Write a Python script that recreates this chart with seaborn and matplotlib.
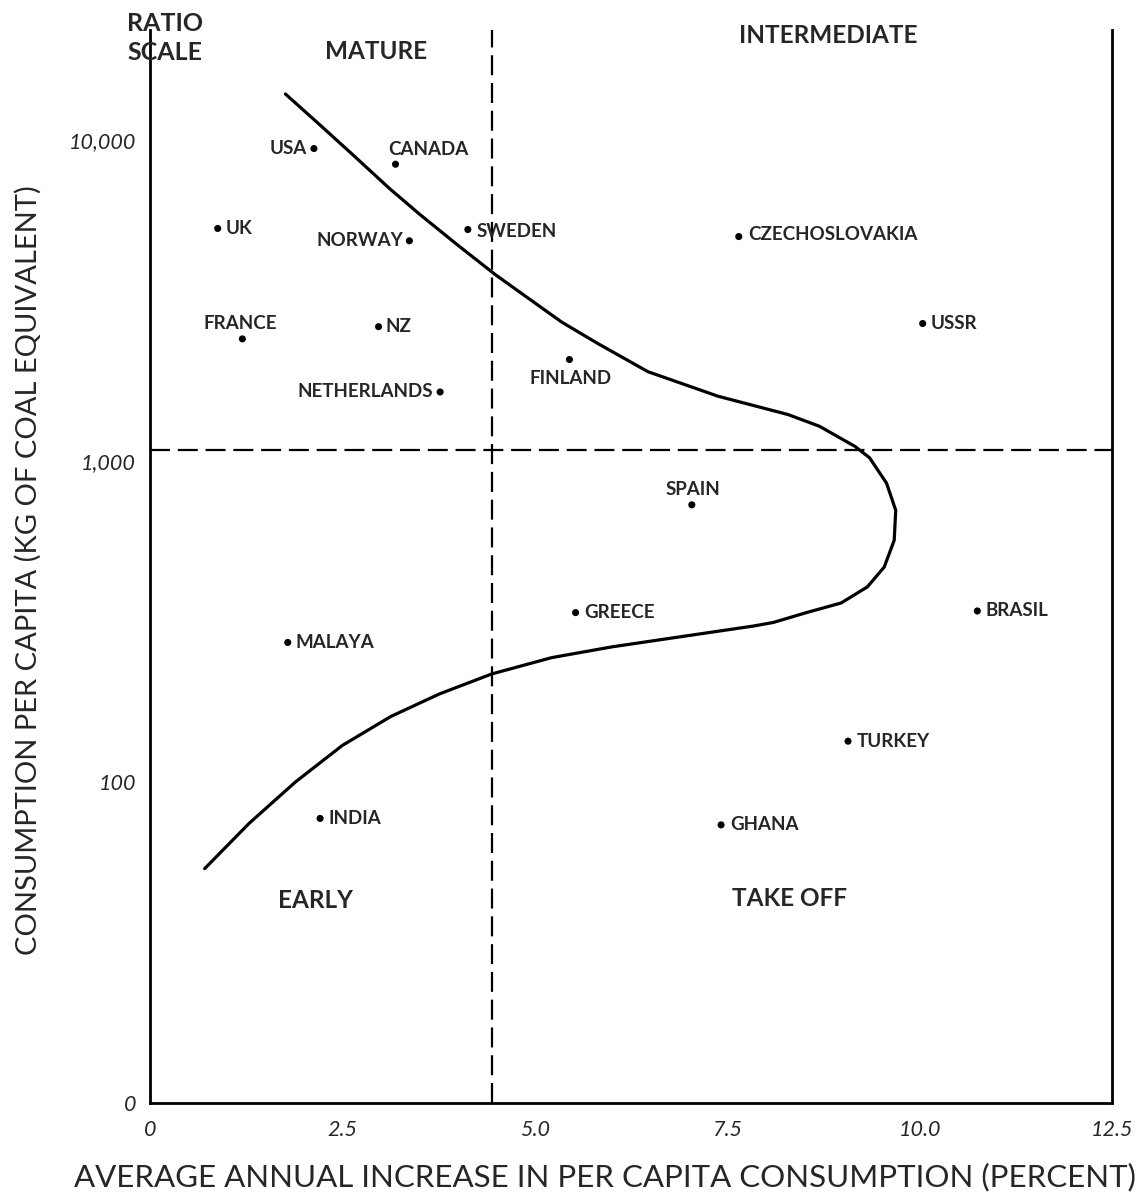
import numpy as np
import pandas as pd
import seaborn as sns
import matplotlib.pyplot as plt
from matplotlib.ticker import FixedLocator, FuncFormatter, NullFormatter

# countries: average annual increase (%) vs consumption per capita (kg coal equivalent)
countries = ["USA", "CANADA", "UK", "NORWAY", "SWEDEN", "FRANCE", "NZ", "NETHERLANDS",
             "FINLAND", "CZECHOSLOVAKIA", "USSR", "SPAIN", "GREECE", "BRASIL",
             "MALAYA", "TURKEY", "INDIA", "GHANA"]
growth = [2.13, 3.19, 0.88, 3.37, 4.13, 1.20, 2.97, 3.77,
          5.45, 7.65, 10.04, 7.04, 5.53, 10.75,
          1.79, 9.07, 2.21, 7.42]
consumption = [9400, 8400, 5300, 4850, 5260, 2400, 2620, 1640,
               2070, 5000, 2680, 730, 337, 341,
               272, 134, 77, 73.5]

# the development curve, traced from top to bottom
curve_x = [1.76, 2.17, 2.62, 3.11, 3.51, 4.00, 4.49, 5.35, 5.81, 6.47, 7.38, 8.29, 8.70,
           9.16, 9.35, 9.57, 9.69, 9.67, 9.54, 9.32, 8.98, 8.53, 8.10, 7.84, 6.92, 6.00,
           5.22, 4.44, 3.76, 3.13, 2.50, 1.89, 1.29, 0.71]
curve_y = [13900, 11350, 9060, 7065, 5850, 4700, 3800, 2707, 2328, 1897, 1591, 1395, 1282,
           1110, 1023, 853, 702, 566, 467, 405, 361, 337, 314, 306, 284, 263.5,
           244, 217, 188, 160, 130, 100, 74.4, 53.7]

# stage boundaries
split_growth = 4.45
split_consumption = 1080

x_ticks = [0, 2.5, 5.0, 7.5, 10.0, 12.5]
x_ticklabels = ["0", "2.5", "5.0", "7.5", "10.0", "12.5"]
y_major = [10, 100, 1000, 10000]
y_ticklabels = {10: "0", 100: "100", 1000: "1,000", 10000: "10,000"}
y_minor = [25, 50, 70, 250, 500, 700, 2500, 5000, 7000]

df = pd.DataFrame({"country": countries, "growth": growth, "consumption": consumption})
curve = pd.DataFrame({"growth": curve_x, "consumption": curve_y})

sns.set_style("white")
plt.rcParams["font.family"] = ["Lato", "DejaVu Sans"]

fig = plt.figure(figsize=(11.39, 12.01), dpi=100)
W, H = 1139, 1201
L, R, T, B = 150, 1112, 30, 1103
ax = fig.add_axes([L / W, 1 - B / H, (R - L) / W, (B - T) / H])

ax.set_yscale("log")
ax.set_xlim(0, 12.5)
ax.set_ylim(10, 22000)

sns.lineplot(data=curve, x="growth", y="consumption", sort=False, estimator=None,
             color="black", lw=2.3, ax=ax)
sns.scatterplot(data=df, x="growth", y="consumption", color="black", s=26,
                edgecolor="none", ax=ax, zorder=5)

ax.axvline(split_growth, color="black", lw=1.6, ls=(0, (9, 3.5)))
ax.axhline(split_consumption, color="black", lw=1.6, ls=(0, (9, 3.5)))

# label placement (pixel offsets, up is positive; alignment)
placement = {
    "USA": (-7, 0, "right"), "CANADA": (-7, 15, "left"), "UK": (8, 0, "left"),
    "NORWAY": (-6, 0, "right"), "SWEDEN": (9, -2, "left"), "FRANCE": (-2, 15, "center"),
    "NZ": (7, 0, "left"), "NETHERLANDS": (-7, 0, "right"), "FINLAND": (1, -19, "center"),
    "CZECHOSLOVAKIA": (10, 2, "left"), "USSR": (8, 0, "left"), "SPAIN": (1, 15, "center"),
    "GREECE": (9, 0, "left"), "BRASIL": (8, 0, "left"), "MALAYA": (8, 0, "left"),
    "TURKEY": (9, 0, "left"), "INDIA": (8, 0, "left"), "GHANA": (9, 0, "left"),
}
for c, gx, cy in zip(countries, growth, consumption):
    dx, dy, ha = placement[c]
    ax.annotate(c, (gx, cy), xytext=(dx, dy), textcoords="offset pixels",
                ha=ha, va="center", fontsize=13.5, fontweight="bold")

# stage names
for name, fx, fy in [("MATURE", 0.235, 0.98), ("INTERMEDIATE", 0.705, 0.995),
                     ("EARLY", 0.172, 0.189), ("TAKE OFF", 0.665, 0.191)]:
    ax.text(fx, fy, name, transform=ax.transAxes, ha="center", va="center",
            fontsize=17.5, fontweight="bold")

ax.set_xticks(x_ticks)
ax.set_xticklabels(x_ticklabels, fontsize=15.5, style="italic")
ax.yaxis.set_major_locator(FixedLocator(y_major))
ax.yaxis.set_major_formatter(FuncFormatter(lambda v, p: y_ticklabels.get(int(round(v)), "")))
ax.yaxis.set_minor_locator(FixedLocator(y_minor))
ax.yaxis.set_minor_formatter(NullFormatter())
ax.tick_params(axis="y", which="both", direction="in", length=11, width=1.6,
               labelsize=15.5, pad=10)
ax.tick_params(axis="x", which="both", direction="in", length=11, width=1.6,
               labelsize=15.5, pad=12)
for lab in ax.get_yticklabels():
    lab.set_style("italic")

for side in ["left", "bottom", "right"]:
    ax.spines[side].set_linewidth(2)
    ax.spines[side].set_color("black")
ax.spines["top"].set_visible(False)

ax.set_xlabel("AVERAGE ANNUAL INCREASE IN PER CAPITA CONSUMPTION (PERCENT)",
              fontsize=22.5)
ax.xaxis.set_label_coords(0.473, -0.056)
ax.set_ylabel("CONSUMPTION PER CAPITA (KG OF COAL EQUIVALENT)", fontsize=21)
ax.yaxis.set_label_coords(-0.113, 0.497)

fig.text(165 / W, 1 - 38 / H, "RATIO\nSCALE", ha="center", va="center",
         fontsize=18, fontweight="bold", linespacing=1.35)

fig.savefig("out.png", dpi=100)
